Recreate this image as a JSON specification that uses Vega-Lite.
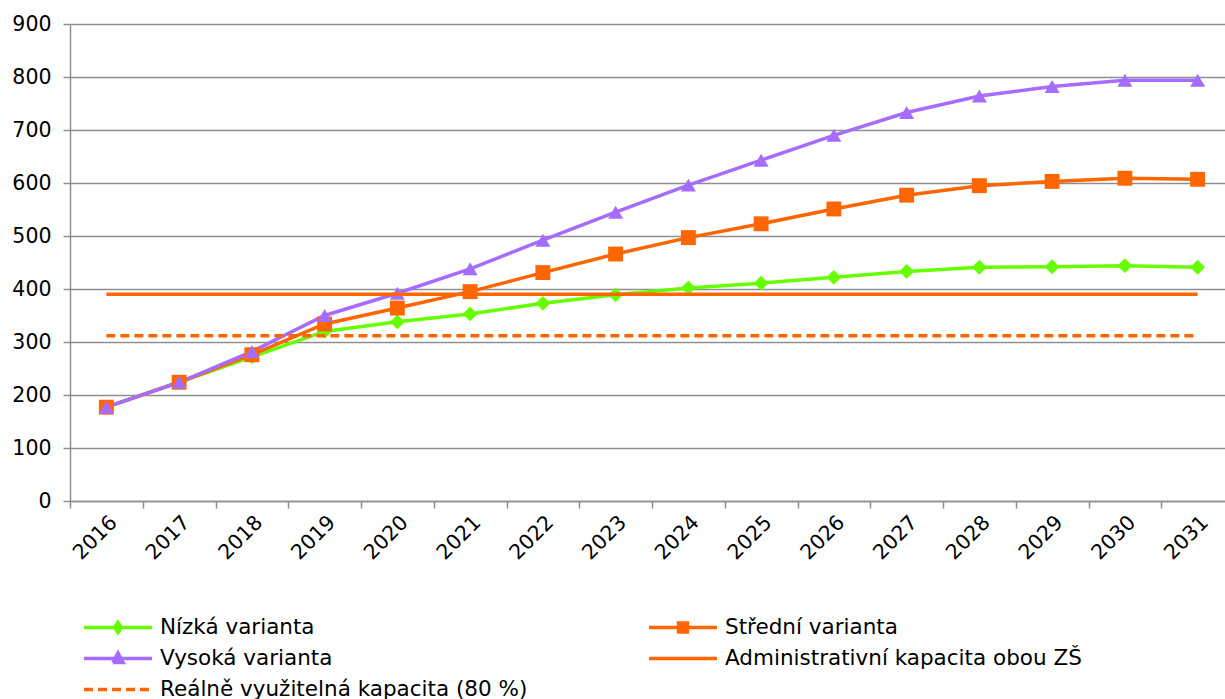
{
  "$schema": "https://vega.github.io/schema/vega-lite/v6.json",
  "width": 1164,
  "height": 477,
  "autosize": "none",
  "padding": {"left": 70, "top": 24, "right": 0, "bottom": 198},
  "background": "white",
  "config": {"view": {"stroke": null}, "font": "DejaVu Sans"},
  "data": {"values": [
    {"rok": "2016", "rada": "Nízká varianta", "hodnota": 177},
    {"rok": "2017", "rada": "Nízká varianta", "hodnota": 224},
    {"rok": "2018", "rada": "Nízká varianta", "hodnota": 272},
    {"rok": "2019", "rada": "Nízká varianta", "hodnota": 320},
    {"rok": "2020", "rada": "Nízká varianta", "hodnota": 338},
    {"rok": "2021", "rada": "Nízká varianta", "hodnota": 353},
    {"rok": "2022", "rada": "Nízká varianta", "hodnota": 373},
    {"rok": "2023", "rada": "Nízká varianta", "hodnota": 389},
    {"rok": "2024", "rada": "Nízká varianta", "hodnota": 402},
    {"rok": "2025", "rada": "Nízká varianta", "hodnota": 411},
    {"rok": "2026", "rada": "Nízká varianta", "hodnota": 422},
    {"rok": "2027", "rada": "Nízká varianta", "hodnota": 433},
    {"rok": "2028", "rada": "Nízká varianta", "hodnota": 441},
    {"rok": "2029", "rada": "Nízká varianta", "hodnota": 442},
    {"rok": "2030", "rada": "Nízká varianta", "hodnota": 444},
    {"rok": "2031", "rada": "Nízká varianta", "hodnota": 441},
    {"rok": "2016", "rada": "Střední varianta", "hodnota": 177},
    {"rok": "2017", "rada": "Střední varianta", "hodnota": 224},
    {"rok": "2018", "rada": "Střední varianta", "hodnota": 276},
    {"rok": "2019", "rada": "Střední varianta", "hodnota": 334},
    {"rok": "2020", "rada": "Střední varianta", "hodnota": 364},
    {"rok": "2021", "rada": "Střední varianta", "hodnota": 395},
    {"rok": "2022", "rada": "Střední varianta", "hodnota": 431},
    {"rok": "2023", "rada": "Střední varianta", "hodnota": 466},
    {"rok": "2024", "rada": "Střední varianta", "hodnota": 497},
    {"rok": "2025", "rada": "Střední varianta", "hodnota": 523},
    {"rok": "2026", "rada": "Střední varianta", "hodnota": 551},
    {"rok": "2027", "rada": "Střední varianta", "hodnota": 577},
    {"rok": "2028", "rada": "Střední varianta", "hodnota": 595},
    {"rok": "2029", "rada": "Střední varianta", "hodnota": 603},
    {"rok": "2030", "rada": "Střední varianta", "hodnota": 609},
    {"rok": "2031", "rada": "Střední varianta", "hodnota": 607},
    {"rok": "2016", "rada": "Vysoká varianta", "hodnota": 177},
    {"rok": "2017", "rada": "Vysoká varianta", "hodnota": 224},
    {"rok": "2018", "rada": "Vysoká varianta", "hodnota": 282},
    {"rok": "2019", "rada": "Vysoká varianta", "hodnota": 350},
    {"rok": "2020", "rada": "Vysoká varianta", "hodnota": 392},
    {"rok": "2021", "rada": "Vysoká varianta", "hodnota": 438},
    {"rok": "2022", "rada": "Vysoká varianta", "hodnota": 492},
    {"rok": "2023", "rada": "Vysoká varianta", "hodnota": 545},
    {"rok": "2024", "rada": "Vysoká varianta", "hodnota": 596},
    {"rok": "2025", "rada": "Vysoká varianta", "hodnota": 643},
    {"rok": "2026", "rada": "Vysoká varianta", "hodnota": 690},
    {"rok": "2027", "rada": "Vysoká varianta", "hodnota": 733},
    {"rok": "2028", "rada": "Vysoká varianta", "hodnota": 764},
    {"rok": "2029", "rada": "Vysoká varianta", "hodnota": 782},
    {"rok": "2030", "rada": "Vysoká varianta", "hodnota": 794},
    {"rok": "2031", "rada": "Vysoká varianta", "hodnota": 794},
    {"rok": "2016", "rada": "Administrativní kapacita obou ZŠ", "hodnota": 390},
    {"rok": "2017", "rada": "Administrativní kapacita obou ZŠ", "hodnota": 390},
    {"rok": "2018", "rada": "Administrativní kapacita obou ZŠ", "hodnota": 390},
    {"rok": "2019", "rada": "Administrativní kapacita obou ZŠ", "hodnota": 390},
    {"rok": "2020", "rada": "Administrativní kapacita obou ZŠ", "hodnota": 390},
    {"rok": "2021", "rada": "Administrativní kapacita obou ZŠ", "hodnota": 390},
    {"rok": "2022", "rada": "Administrativní kapacita obou ZŠ", "hodnota": 390},
    {"rok": "2023", "rada": "Administrativní kapacita obou ZŠ", "hodnota": 390},
    {"rok": "2024", "rada": "Administrativní kapacita obou ZŠ", "hodnota": 390},
    {"rok": "2025", "rada": "Administrativní kapacita obou ZŠ", "hodnota": 390},
    {"rok": "2026", "rada": "Administrativní kapacita obou ZŠ", "hodnota": 390},
    {"rok": "2027", "rada": "Administrativní kapacita obou ZŠ", "hodnota": 390},
    {"rok": "2028", "rada": "Administrativní kapacita obou ZŠ", "hodnota": 390},
    {"rok": "2029", "rada": "Administrativní kapacita obou ZŠ", "hodnota": 390},
    {"rok": "2030", "rada": "Administrativní kapacita obou ZŠ", "hodnota": 390},
    {"rok": "2031", "rada": "Administrativní kapacita obou ZŠ", "hodnota": 390},
    {"rok": "2016", "rada": "Reálně využitelná kapacita (80 %)", "hodnota": 312},
    {"rok": "2017", "rada": "Reálně využitelná kapacita (80 %)", "hodnota": 312},
    {"rok": "2018", "rada": "Reálně využitelná kapacita (80 %)", "hodnota": 312},
    {"rok": "2019", "rada": "Reálně využitelná kapacita (80 %)", "hodnota": 312},
    {"rok": "2020", "rada": "Reálně využitelná kapacita (80 %)", "hodnota": 312},
    {"rok": "2021", "rada": "Reálně využitelná kapacita (80 %)", "hodnota": 312},
    {"rok": "2022", "rada": "Reálně využitelná kapacita (80 %)", "hodnota": 312},
    {"rok": "2023", "rada": "Reálně využitelná kapacita (80 %)", "hodnota": 312},
    {"rok": "2024", "rada": "Reálně využitelná kapacita (80 %)", "hodnota": 312},
    {"rok": "2025", "rada": "Reálně využitelná kapacita (80 %)", "hodnota": 312},
    {"rok": "2026", "rada": "Reálně využitelná kapacita (80 %)", "hodnota": 312},
    {"rok": "2027", "rada": "Reálně využitelná kapacita (80 %)", "hodnota": 312},
    {"rok": "2028", "rada": "Reálně využitelná kapacita (80 %)", "hodnota": 312},
    {"rok": "2029", "rada": "Reálně využitelná kapacita (80 %)", "hodnota": 312},
    {"rok": "2030", "rada": "Reálně využitelná kapacita (80 %)", "hodnota": 312},
    {"rok": "2031", "rada": "Reálně využitelná kapacita (80 %)", "hodnota": 312}
  ]},
  "encoding": {
    "x": {
      "field": "rok", "type": "ordinal",
      "scale": {"type": "point", "padding": 0.5},
      "axis": {
        "title": null, "labelAngle": -45, "labelAlign": "right", "labelBaseline": "top",
        "tickOffset": -36.375, "labelOffset": 36.375, "grid": false,
        "tickSize": 7, "tickColor": "#8f8f8f", "tickWidth": 1.5,
        "domainColor": "#8f8f8f", "domainWidth": 1.5,
        "labelFont": "DejaVu Sans", "labelFontSize": 20.5, "labelColor": "#000000", "labelPadding": 4
      }
    },
    "y": {
      "field": "hodnota", "type": "quantitative",
      "scale": {"domain": [0, 900], "nice": false, "zero": true},
      "axis": {
        "title": null, "values": [0, 100, 200, 300, 400, 500, 600, 700, 800, 900],
        "grid": true, "gridColor": "#8f8f8f", "gridWidth": 1.5,
        "tickSize": 7, "tickColor": "#8f8f8f", "tickWidth": 1.5,
        "domainColor": "#8f8f8f", "domainWidth": 1.5,
        "labelFont": "DejaVu Sans", "labelFontSize": 20.5, "labelColor": "#000000", "labelPadding": 12
      }
    },
    "color": {
      "field": "rada", "type": "nominal",
      "scale": {
        "domain": ["Nízká varianta", "Střední varianta", "Vysoká varianta", "Administrativní kapacita obou ZŠ", "Reálně využitelná kapacita (80 %)"],
        "range": ["#66ff00", "#ff6600", "#a56cff", "#ff6600", "#ff6600"]
      },
      "legend": {
        "title": null, "orient": "none", "legendX": 12, "legendY": 591, "direction": "horizontal",
        "columns": 2, "columnPadding": 119, "rowPadding": 6, "clipHeight": 25,
        "symbolType": "M-1,0H1", "symbolSize": 4624, "symbolStrokeWidth": 3,
        "labelFont": "DejaVu Sans", "labelFontSize": 21.5, "labelColor": "#000000", "labelOffset": 6, "labelLimit": 0,
        "encode": {
          "symbols": {
            "update": {
              "shape": {"signal": "datum.value == 'Nízká varianta' ? 'M-1,0H1M0,-0.15L0.1,0L0,0.15L-0.1,0Z' : datum.value == 'Střední varianta' ? 'M-1,0H1M-0.13,-0.13H0.13V0.13H-0.13Z' : datum.value == 'Vysoká varianta' ? 'M-1,0H1M0,-0.16L0.15,0.12L-0.15,0.12Z' : 'M-1,0H1'"},
              "stroke": {"signal": "scale('color', datum.value)"},
              "fill": {"signal": "scale('color', datum.value)"},
              "strokeDash": {"signal": "datum.value == 'Reálně využitelná kapacita (80 %)' ? [9, 5] : [1, 0]"},
              "strokeWidth": {"value": 3.5},
              "opacity": {"value": 1},
              "fillOpacity": {"value": 1},
              "strokeOpacity": {"value": 1}
            }
          }
        }
      }
    }
  },
  "layer": [
    {
      "transform": [{"filter": "indexof(['Nízká varianta', 'Střední varianta', 'Vysoká varianta'], datum.rada) >= 0"}],
      "mark": {"type": "line", "strokeWidth": 3.5}
    },
    {
      "transform": [{"filter": "indexof(['Nízká varianta', 'Střední varianta', 'Vysoká varianta'], datum.rada) >= 0"}],
      "mark": {"type": "point", "filled": true, "opacity": 1},
      "encoding": {
        "shape": {
          "field": "rada", "type": "nominal", "legend": null,
          "scale": {"domain": ["Nízká varianta", "Střední varianta", "Vysoká varianta"], "range": ["diamond", "square", "triangle-up"]}
        },
        "size": {
          "field": "rada", "type": "nominal", "legend": null,
          "scale": {"domain": ["Nízká varianta", "Střední varianta", "Vysoká varianta"], "range": [220, 225, 290]}
        }
      }
    },
    {
      "transform": [{"filter": "indexof(['Administrativní kapacita obou ZŠ', 'Reálně využitelná kapacita (80 %)'], datum.rada) >= 0"}],
      "mark": {"type": "line", "strokeWidth": 3.5},
      "encoding": {
        "strokeDash": {
          "field": "rada", "type": "nominal", "legend": null,
          "scale": {"domain": ["Administrativní kapacita obou ZŠ", "Reálně využitelná kapacita (80 %)"], "range": [[1, 0], [9, 5]]}
        }
      }
    }
  ]
}
